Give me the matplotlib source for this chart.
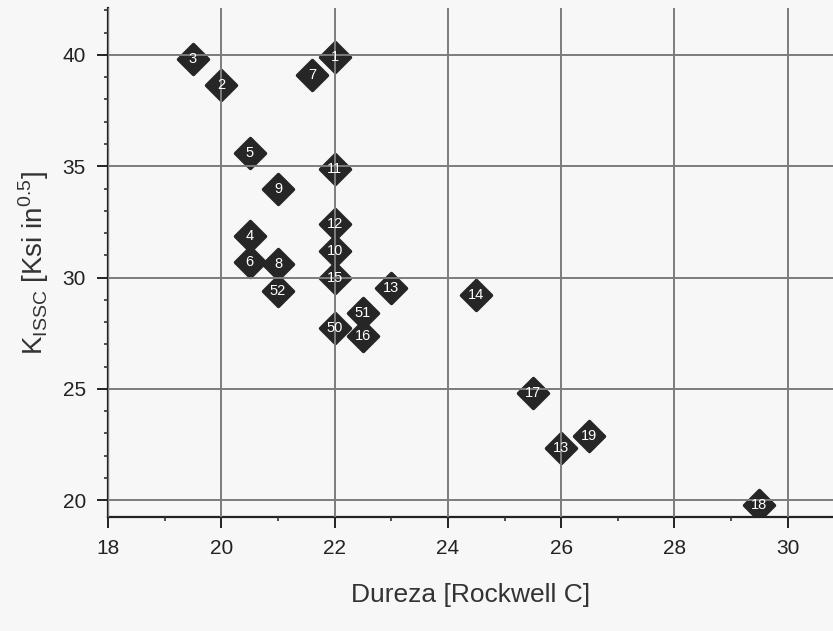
import matplotlib
matplotlib.use("Agg")
import matplotlib.pyplot as plt
from matplotlib.markers import MarkerStyle
from matplotlib.ticker import MultipleLocator

plt.rcParams['font.family'] = ['Liberation Sans', 'DejaVu Sans']
plt.rcParams['mathtext.fontset'] = 'custom'
plt.rcParams['mathtext.rm'] = 'Liberation Sans'

# Hardness (HRC) vs. K_ISSC for each specimen
labels = ["3", "2", "7", "1", "5", "11", "9", "4", "6", "8", "52", "12",
          "10", "15", "13", "50", "51", "16", "14", "17", "13", "19", "18"]
hardness = [19.5, 20.0, 21.6, 22.0, 20.5, 22.0, 21.0, 20.5, 20.5, 21.0, 21.0, 22.0,
            22.0, 22.0, 23.0, 22.0, 22.5, 22.5, 24.5, 25.5, 26.0, 26.5, 29.5]
kissc = [39.8, 38.65, 39.1, 39.9, 35.6, 34.9, 34.0, 31.85, 30.7, 30.6, 29.4, 32.4,
         31.2, 30.0, 29.55, 27.75, 28.4, 27.4, 29.2, 24.8, 22.35, 22.9, 19.8]

x_ticks = [18, 20, 22, 24, 26, 28, 30]
y_ticks = [20, 25, 30, 35, 40]

fig = plt.figure(figsize=(8.33, 6.31), dpi=100)
fig.patch.set_facecolor('#f7f7f7')
ax = fig.add_axes([0.1297, 0.1807, 0.8703, 0.8063])
ax.set_facecolor('#f7f7f7')

diamond = MarkerStyle('D', joinstyle='round')
ax.plot(hardness, kissc, linestyle='none', marker=diamond, markersize=15,
        markerfacecolor='#262626', markeredgecolor='#262626', markeredgewidth=2.5,
        zorder=2)
for lab, xv, yv in zip(labels, hardness, kissc):
    ax.text(xv, yv, lab, color='white', fontsize=10.5, ha='center', va='center', zorder=4)

ax.set_xlim(18, 30.8)
ax.set_ylim(19.25, 42.1)
ax.set_xticks(x_ticks)
ax.set_yticks(y_ticks)
ax.xaxis.set_minor_locator(MultipleLocator(1))
ax.yaxis.set_minor_locator(MultipleLocator(1))
ax.grid(True, which='major', color='#7c7c7c', linewidth=1.4, zorder=3)
ax.set_axisbelow(False)

for s in ['top', 'right']:
    ax.spines[s].set_visible(False)
for s in ['left', 'bottom']:
    ax.spines[s].set_linewidth(1.6)
    ax.spines[s].set_color('#222222')

ax.tick_params(which='major', direction='out', length=8, width=1.4, labelsize=15,
               colors='#222222', pad=8)
ax.tick_params(which='minor', direction='out', length=3, width=1.2, colors='#333333')

ax.set_xlabel('Dureza [Rockwell C]', fontsize=19, color='#333333', labelpad=18)
ax.set_ylabel(r'K$_{\mathregular{ISSC}}$ [Ksi in$^{\mathregular{0.5}}$]', fontsize=20,
              color='#333333', labelpad=8)

fig.savefig('out.png', dpi=100, facecolor=fig.get_facecolor())
